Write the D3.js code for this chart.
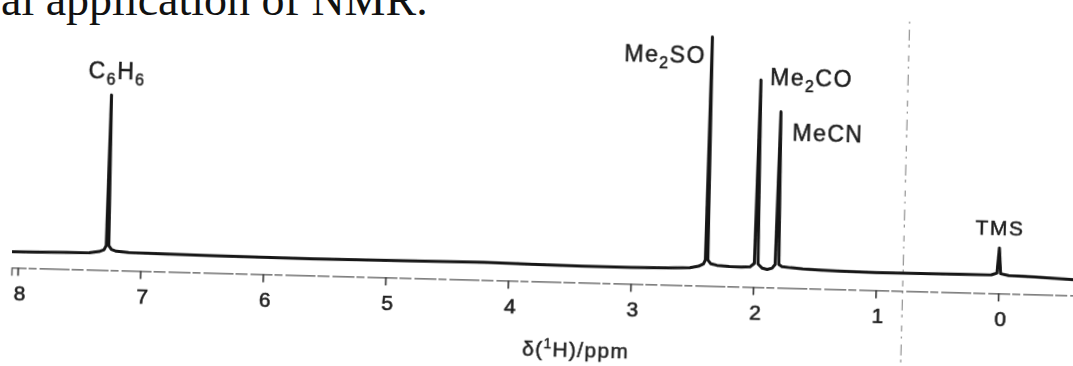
<!DOCTYPE html>
<html>
<head>
<meta charset="utf-8">
<script src="https://cdn.jsdelivr.net/npm/d3@7"></script>
<style>
  body { margin: 0; background: #fff; }
  svg { display: block; }
  .axis text { font-family: "Liberation Sans", Arial, sans-serif; font-size: 21px; fill: #1e1e1e; stroke: #1e1e1e; stroke-width: 0.6px; }
  .lbl { font-family: "Liberation Sans", Arial, sans-serif; fill: #1e1e1e; stroke: #1e1e1e; stroke-width: 0.5px; }
</style>
</head>
<body>
<svg class="nmr"></svg>
<script>
// chemical shifts (ppm) along the trace, and the signal height read at each one
var shifts = [8.05, 7.85, 7.6, 7.42, 7.34, 7.30, 7.283, 7.272, 7.262, 7.24, 7.2, 7.1,
  6.8, 6.4, 6.0, 5.6, 5.2, 4.8, 4.2, 3.8, 3.4, 3.0, 2.7, 2.52, 2.45, 2.41, 2.395,
  2.385, 2.375, 2.35, 2.30, 2.20, 2.10, 2.03, 1.995, 1.98, 1.965, 1.93, 1.89, 1.85,
  1.825, 1.81, 1.795, 1.77, 1.70, 1.6, 1.45, 1.3, 1.0, 0.6, 0.3, 0.06, 0.015, 0.0,
  -0.015, -0.08, -0.3, -0.62];
var intensity = [-0.6, -0.5, -0.3, -0.2, 0.4, 1.2, 3, 65.7, 3, 1.4, 0.7, 0.3,
  0.1, -0.1, -0.2, -0.3, -0.2, -0.1, 0.1, -0.2, -0.4, -0.4, -0.2, 0.1, 0.8, 1.8, 3.5,
  96.5, 3.5, 2.0, 1.4, 1.0, 0.9, 1.1, 2.6, 79.1, 2.4, 0.7, 0.2, 0.8,
  2.4, 66.0, 2.4, 1.6, 1.2, 0.8, 0.5, 0.3, 0.1, 0.2, 0.3, 0.4, 1.2, 11.7,
  1.0, 0.3, 0.0, -0.7];

// assigned peaks
var peakNames = ["C6H6", "Me2SO", "Me2CO", "MeCN", "TMS"];
var peakShifts = [7.272, 2.385, 1.98, 1.81, 0.0];
var peakHeights = [65.7, 96.5, 79.1, 66.0, 11.7];

var tickValues = [8, 7, 6, 5, 4, 3, 2, 1, 0];

var width = 1073;
var height = 366;

var svg = d3.select(".nmr")
  .attr("width", width)
  .attr("height", height);

// the scanned page text above the figure
svg.append("text")
  .attr("x", 1)
  .attr("y", 15)
  .style("font-family", "'Liberation Serif', 'Times New Roman', serif")
  .style("font-size", "46px")
  .style("fill", "#111")
  .text("al application of NMR.");

var soft = svg.append("defs").append("filter").attr("id", "soft");
soft.append("feGaussianBlur").attr("stdDeviation", 0.45);

// scan sits a little rotated on the page
var g = svg.append("g")
  .attr("transform", "rotate(1.5, 540, 183)")
  .attr("filter", "url(#soft)");

var x = d3.scaleLinear().domain([8.05, -0.62]).range([14, 1077]);
var y = d3.scaleLinear().domain([0, 100]).range([264, 24]);

// fold mark in the paper
g.append("line")
  .attr("x1", x(0.78)).attr("x2", x(0.78))
  .attr("y1", 12).attr("y2", 390)
  .attr("stroke", "#9a9a9a")
  .attr("stroke-width", 1.3)
  .attr("stroke-dasharray", "2 6 11 4 3 8 6 5");

// axis
var axis = g.append("g")
  .attr("class", "axis")
  .attr("transform", "translate(0,281.4)")
  .call(d3.axisBottom(x).tickValues(tickValues).tickSize(8).tickPadding(10)
    .tickFormat(d3.format("d")));
axis.select(".domain")
  .attr("stroke", "#555")
  .attr("stroke-width", 1.4)
  .attr("stroke-dasharray", "22 2 8 3 30 2 12 3");
axis.selectAll(".tick line").attr("stroke", "#333").attr("stroke-width", 1.6);
axis.selectAll(".tick text").attr("dx", 2);

g.append("text")
  .attr("class", "lbl")
  .attr("x", 580)
  .attr("y", 356)
  .attr("text-anchor", "middle")
  .style("font-size", "21px")
  .style("letter-spacing", "1.3px")
  .call(function(t) {
    t.append("tspan").text("δ(");
    t.append("tspan").attr("dy", -8).style("font-size", "14px").text("1");
    t.append("tspan").attr("dy", 8).text("H)/ppm");
  });

// spectrum trace
var points = shifts.map(function(s, i) { return [s, intensity[i]]; });
var line = d3.line()
  .x(function(d) { return x(d[0]); })
  .y(function(d) { return y(d[1]); });

g.append("path")
  .datum(points)
  .attr("d", line)
  .attr("fill", "none")
  .attr("stroke", "#141414")
  .attr("stroke-width", 3)
  .attr("stroke-linejoin", "round");

// peak labels
var placement = [
  { anchor: "middle", dx: 5, dy: -16, size: 23 },
  { anchor: "end", dx: -6, dy: 27, size: 23 },
  { anchor: "start", dx: 9, dy: 5, size: 23 },
  { anchor: "start", dx: 12, dy: 28, size: 23 },
  { anchor: "middle", dx: 0, dy: -13, size: 21 }
];

function labelParts(name) {
  // split "Me2SO" -> ["Me", "2", "SO"] with digits as subscripts
  return name.match(/[A-Za-z]+|\d+/g);
}

peakNames.forEach(function(name, i) {
  var p = placement[i];
  var t = g.append("text")
    .attr("class", "lbl")
    .attr("x", x(peakShifts[i]) + p.dx)
    .attr("y", y(peakHeights[i]) + p.dy)
    .attr("text-anchor", p.anchor)
    .style("font-size", p.size + "px")
    .style("letter-spacing", "1.5px");
  var shift = 0;
  labelParts(name).forEach(function(part) {
    var sub = /\d/.test(part);
    var dy = sub ? 6 - shift : -shift;
    shift = sub ? 6 : 0;
    t.append("tspan")
      .attr("dy", dy)
      .style("font-size", sub ? "16px" : null)
      .text(part);
  });
});
</script>
</body>
</html>
